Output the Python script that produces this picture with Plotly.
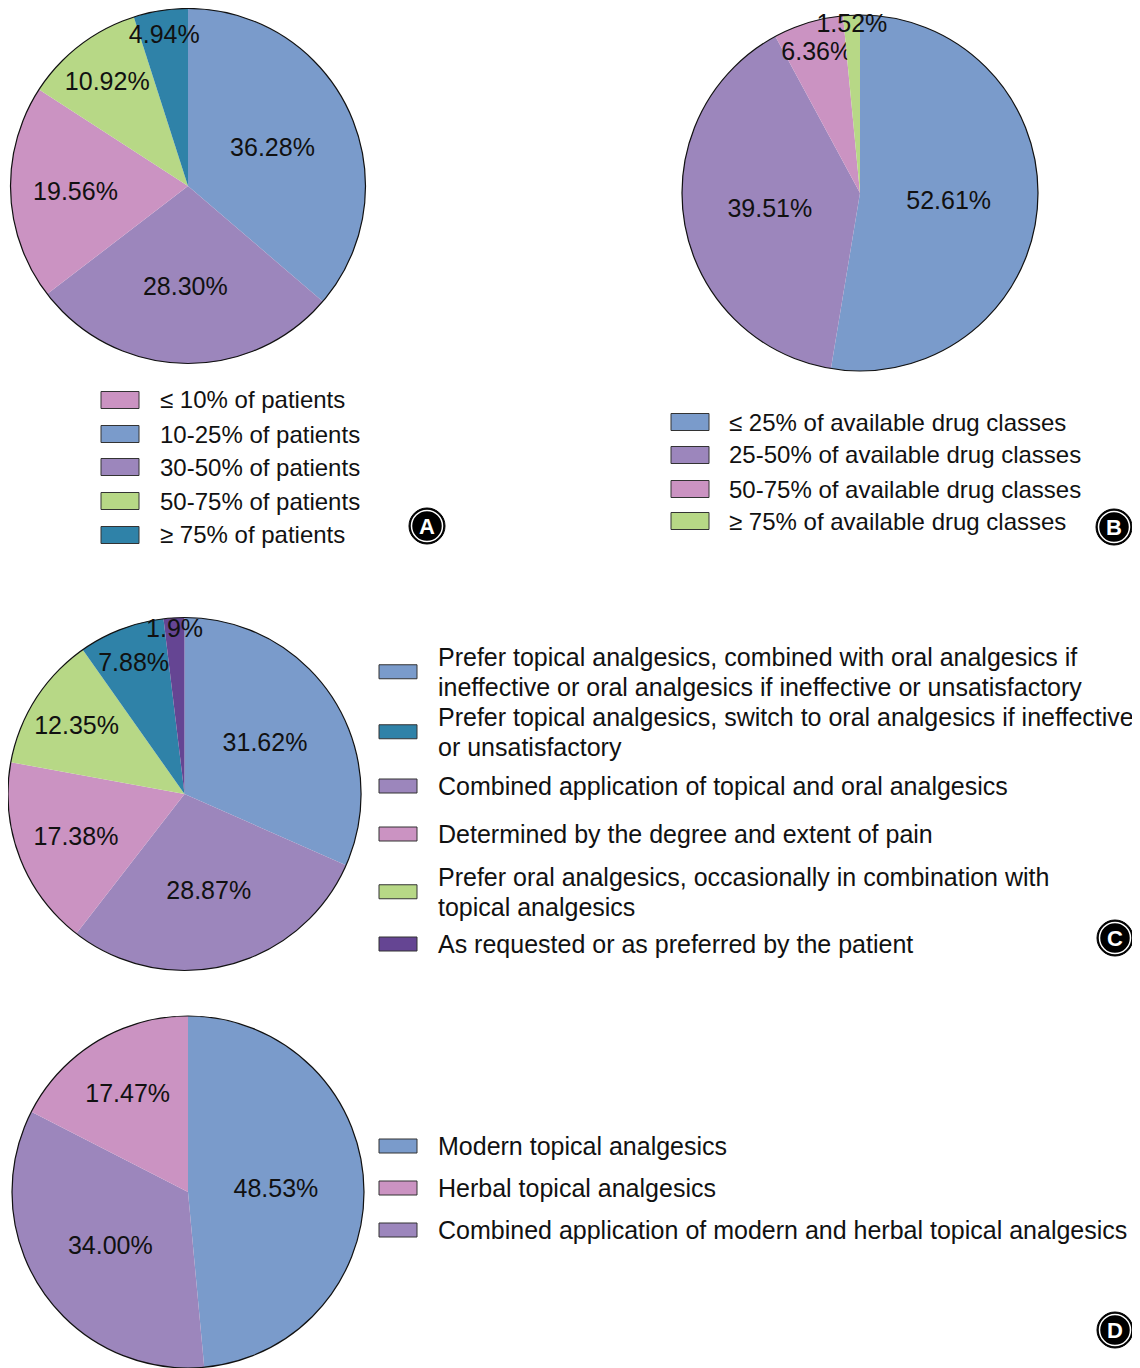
import plotly.graph_objects as go

PAGE_W, PAGE_H = 1140, 1368
OFF = 8  # default body margin of the page
W, H = PAGE_W - OFF, PAGE_H - OFF
FONT = "Liberation Sans, Arial, sans-serif"

BLUE = "#7A9BCB"
PURPLE = "#9C86BC"
PINK = "#CB93C2"
GREEN = "#B7D886"
TEAL = "#2F82A8"
DPURPLE = "#654593"

# ---- Panel A data ----
a_values = [36.28, 28.30, 19.56, 10.92, 4.94]
a_text = ["36.28%", "28.30%", "19.56%", "10.92%", "4.94%"]
a_colors = [BLUE, PURPLE, PINK, GREEN, TEAL]
a_legend = ["≤ 10% of patients", "10-25% of patients", "30-50% of patients",
            "50-75% of patients", "≥ 75% of patients"]
a_legend_colors = [PINK, BLUE, PURPLE, GREEN, TEAL]

# ---- Panel B data ----
b_values = [52.61, 39.51, 6.36, 1.52]
b_text = ["52.61%", "39.51%", "6.36%", "1.52%"]
b_colors = [BLUE, PURPLE, PINK, GREEN]
b_legend = ["≤ 25% of available drug classes", "25-50% of available drug classes",
            "50-75% of available drug classes", "≥ 75% of available drug classes"]
b_legend_colors = [BLUE, PURPLE, PINK, GREEN]

# ---- Panel C data ----
c_values = [31.62, 28.87, 17.38, 12.35, 7.88, 1.9]
c_text = ["31.62%", "28.87%", "17.38%", "12.35%", "7.88%", "1.9%"]
c_colors = [BLUE, PURPLE, PINK, GREEN, TEAL, DPURPLE]
c_legend = ["Prefer topical analgesics, combined with oral analgesics if<br>ineffective or oral analgesics if ineffective or unsatisfactory",
            "Prefer topical analgesics, switch to oral analgesics if ineffective<br>or unsatisfactory",
            "Combined application of topical and oral analgesics",
            "Determined by the degree and extent of pain",
            "Prefer oral analgesics, occasionally in combination with<br>topical analgesics",
            "As requested or as preferred by the patient"]
c_legend_colors = [BLUE, TEAL, PURPLE, PINK, GREEN, DPURPLE]

# ---- Panel D data ----
d_values = [48.53, 34.00, 17.47]
d_text = ["48.53%", "34.00%", "17.47%"]
d_colors = [BLUE, PURPLE, PINK]
d_legend = ["Modern topical analgesics", "Herbal topical analgesics",
            "Combined application of modern and herbal topical analgesics"]
d_legend_colors = [BLUE, PINK, PURPLE]


def px(x):
    return (x - OFF) / W


def py(y):
    return 1 - (y - OFF) / H


def dom(cx, cy, r):
    y0 = max(0.0, py(cy + r))
    y1 = min(1.0, py(cy - r))
    x0 = max(0.0, px(cx - r))
    x1 = min(1.0, px(cx + r))
    return dict(x=[x0, x1], y=[y0, y1])


fig = go.Figure()

pies = [
    (a_values, a_text, a_colors, dom(188, 186, 177.5)),
    (b_values, b_text, b_colors, dom(860, 193, 178)),
    (c_values, c_text, c_colors, dom(183, 794, 178)),
    (d_values, d_text, d_colors, dom(188, 1192, 176)),
]

for vals, txt, cols, dm in pies:
    fig.add_trace(go.Pie(
        values=vals, text=txt, textinfo="text", textposition="inside",
        insidetextorientation="horizontal",
        marker=dict(colors=cols, line=dict(width=0)),
        sort=False, direction="clockwise", rotation=0,
        domain=dm, showlegend=False, hoverinfo="skip",
        textfont=dict(family=FONT, size=25, color="#111111"),
    ))
    # outer circle outline
    fig.add_trace(go.Pie(
        values=[1], textinfo="none", sort=False,
        marker=dict(colors=["rgba(0,0,0,0)"], line=dict(color="#111111", width=1.2)),
        domain=dm, showlegend=False, hoverinfo="skip",
    ))

shapes = []
annotations = []


def legend(items, colors, box_x, text_x, ys, box_h, size, line_gap=29.5):
    for lab, col, y_first in zip(items, colors, ys):
        lines = lab.split("<br>")
        n = len(lines)
        yc = y_first + (n - 1) * line_gap / 2
        shapes.append(dict(type="rect", xref="paper", yref="paper",
                           x0=px(box_x), x1=px(box_x + 38),
                           y0=py(yc + box_h / 2), y1=py(yc - box_h / 2),
                           fillcolor=col, line=dict(color="#333333", width=1)))
        for i, ln in enumerate(lines):
            annotations.append(dict(text=ln, xref="paper", yref="paper",
                                    x=px(text_x), y=py(y_first + i * line_gap),
                                    xanchor="left", yanchor="middle",
                                    showarrow=False, align="left",
                                    font=dict(family=FONT, size=size, color="#111111")))


legend(a_legend, a_legend_colors, 101, 158, [400, 434, 467, 501, 535], 17, 24)
legend(b_legend, b_legend_colors, 671, 727, [422, 455, 489, 521], 17, 24)
legend(c_legend, c_legend_colors, 379, 436, [657, 717, 786, 834, 877, 944], 14, 25)
legend(d_legend, d_legend_colors, 379, 436, [1146, 1188, 1230], 14, 25)


def badge(letter, cx, cy):
    r = 18
    shapes.append(dict(type="circle", xref="paper", yref="paper",
                       x0=px(cx - r), x1=px(cx + r), y0=py(cy + r), y1=py(cy - r),
                       fillcolor="black", line=dict(color="black", width=1)))
    r2 = 15.5
    shapes.append(dict(type="circle", xref="paper", yref="paper",
                       x0=px(cx - r2), x1=px(cx + r2), y0=py(cy + r2), y1=py(cy - r2),
                       fillcolor="black", line=dict(color="white", width=1.5)))
    annotations.append(dict(text="<b>%s</b>" % letter, xref="paper", yref="paper",
                            x=px(cx), y=py(cy), xanchor="center", yanchor="middle",
                            showarrow=False,
                            font=dict(family=FONT, size=22, color="white")))


badge("A", 427, 526)
badge("B", 1114, 527)
badge("C", 1115, 938)
badge("D", 1115, 1330)

fig.update_layout(
    width=W, height=H,
    margin=dict(l=0, r=0, t=0, b=0),
    paper_bgcolor="white", plot_bgcolor="white",
    shapes=shapes, annotations=annotations,
    uniformtext=dict(minsize=25, mode="show"),
    font=dict(family=FONT),
)

fig.write_html("out.html")
